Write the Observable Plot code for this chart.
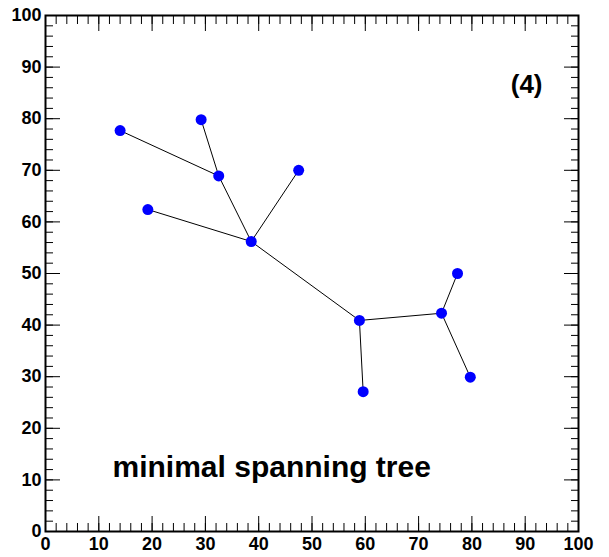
<!DOCTYPE html>
<html>
<head>
<meta charset="utf-8">
<script src="https://cdn.jsdelivr.net/npm/d3@7"></script>
<script src="https://cdn.jsdelivr.net/npm/@observablehq/plot@0.6"></script>
<style>
  html, body { margin: 0; padding: 0; background: #fff; }
  #chart { width: 609px; height: 557px; }
</style>
</head>
<body>
<div id="chart"></div>
<script>
// Node coordinates
const nodeX = [14.0, 29.2, 32.5, 47.5, 19.2, 38.6, 58.9, 59.6, 74.3, 77.3, 79.7];
const nodeY = [77.7, 79.8, 68.9, 70.0, 62.4, 56.2, 40.9, 27.1, 42.3, 50.0, 29.9];
// Tree edges, as pairs of node indices
const edgeFrom = [0, 1, 2, 3, 4, 5, 6, 6, 8, 8];
const edgeTo   = [2, 2, 5, 5, 5, 6, 7, 8, 9, 10];
// Axis ticks
const majorTicks = [0, 10, 20, 30, 40, 50, 60, 70, 80, 90, 100];
const minorTicks = [0, 2, 4, 6, 8, 10, 12, 14, 16, 18, 20, 22, 24, 26, 28, 30, 32, 34, 36, 38, 40, 42, 44, 46, 48, 50, 52, 54, 56, 58, 60, 62, 64, 66, 68, 70, 72, 74, 76, 78, 80, 82, 84, 86, 88, 90, 92, 94, 96, 98, 100];
const titleText = ["minimal spanning tree"];
const tagText = ["(4)"];

const nodes = nodeX.map((x, i) => ({x, y: nodeY[i]}));
const edges = edgeFrom.map((a, i) => ({a: nodes[a], b: nodes[edgeTo[i]]}));

const font = "'Liberation Sans', Arial, Helvetica, sans-serif";
const tickOpts = {label: null, fill: "none", stroke: "black", strokeWidth: 1};

const chart = Plot.plot({
  width: 609,
  height: 557,
  marginLeft: 45,
  marginRight: 31,
  marginTop: 15,
  marginBottom: 26,
  style: {fontFamily: font, fontWeight: "bold", background: "white", color: "black"},
  x: {domain: [0, 100]},
  y: {domain: [0, 100]},
  marks: [
    // minor ticks
    Plot.axisX({...tickOpts, anchor: "bottom", ticks: minorTicks, tickSize: -8}),
    Plot.axisX({...tickOpts, anchor: "top", ticks: minorTicks, tickSize: -8}),
    Plot.axisY({...tickOpts, anchor: "left", ticks: minorTicks, tickSize: -8}),
    Plot.axisY({...tickOpts, anchor: "right", ticks: minorTicks, tickSize: -8}),
    // major ticks
    Plot.axisX({...tickOpts, anchor: "bottom", ticks: majorTicks, tickSize: -15}),
    Plot.axisX({...tickOpts, anchor: "top", ticks: majorTicks, tickSize: -15}),
    Plot.axisY({...tickOpts, anchor: "left", ticks: majorTicks, tickSize: -15}),
    Plot.axisY({...tickOpts, anchor: "right", ticks: majorTicks, tickSize: -15}),
    // labels
    Plot.axisX({anchor: "bottom", ticks: majorTicks, tickSize: 0, tickPadding: 6, label: null,
      fontSize: 18, fontWeight: "bold", fill: "black", tickFormat: d3.format("d")}),
    Plot.axisY({anchor: "left", ticks: majorTicks, tickSize: 0, tickPadding: 4, label: null,
      fontSize: 18, fontWeight: "bold", fill: "black", tickFormat: d3.format("d")}),
    Plot.frame({stroke: "black", strokeWidth: 2}),
    // tree
    Plot.link(edges, {x1: d => d.a.x, y1: d => d.a.y, x2: d => d.b.x, y2: d => d.b.y,
      stroke: "black", strokeWidth: 1}),
    Plot.dot(nodes, {x: "x", y: "y", r: 5.5, fill: "#0000ff", stroke: "none"}),
    // annotations
    Plot.text(titleText, {text: d => d, frameAnchor: "bottom-left", textAnchor: "start",
      lineAnchor: "bottom", dx: 67, dy: -55, fontSize: 30, fontWeight: "bold", fill: "black"}),
    Plot.text(tagText, {text: d => d, frameAnchor: "top-right", textAnchor: "end",
      lineAnchor: "bottom", dx: -36, dy: 77, fontSize: 26, fontWeight: "bold", fill: "black"})
  ]
});
document.getElementById("chart").appendChild(chart);
</script>
</body>
</html>
